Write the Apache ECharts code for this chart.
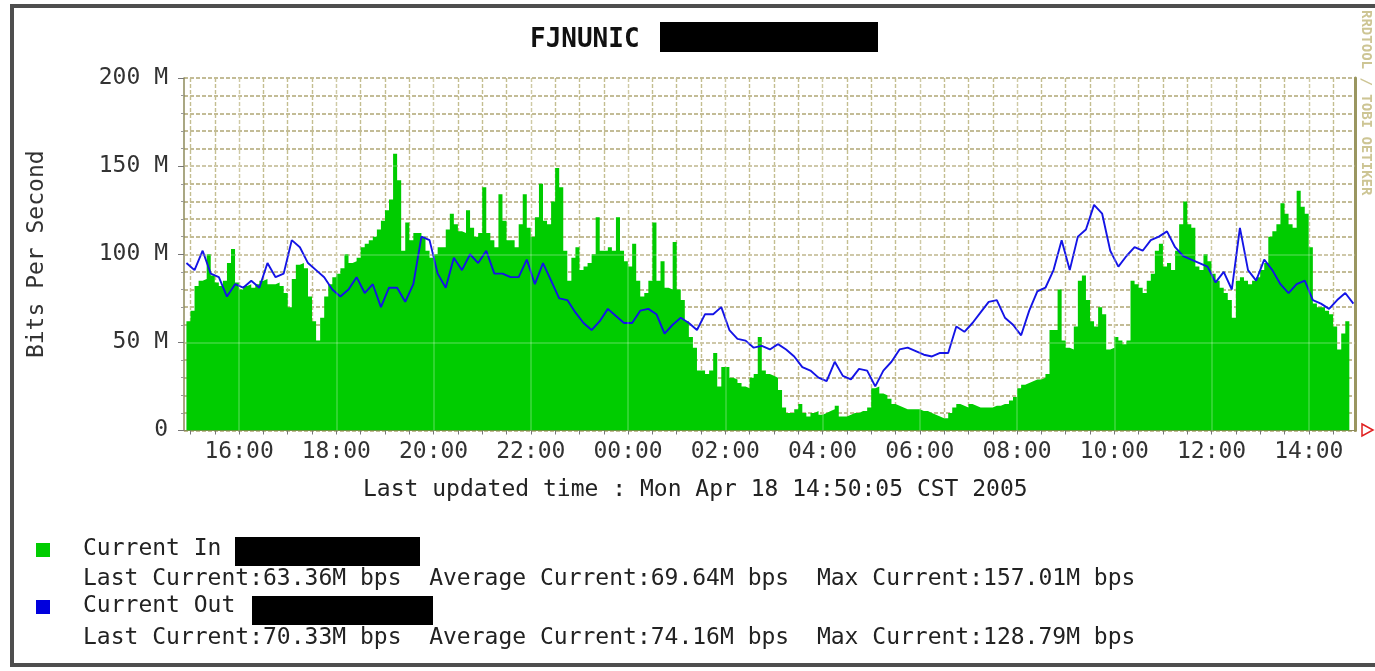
<!DOCTYPE html>
<html><head><meta charset="utf-8">
<script src="https://cdn.jsdelivr.net/npm/echarts@6/dist/echarts.min.js"></script>
<style>
html,body{margin:0;padding:0;background:#fff;}
#c{position:absolute;left:0;top:0;width:1375px;height:671px;}
#frame{position:absolute;left:10px;top:4px;width:1365px;height:663px;border-left:4px solid #4e4e4e;border-top:4px solid #4e4e4e;border-bottom:4px solid #4e4e4e;box-sizing:border-box;pointer-events:none;}
</style>
</head><body><div id="c"></div><div id="frame"></div>
<script>
// Time in minutes since 00:00 on Apr 17 (values beyond 1440 are Apr 18)
const axisStart = 892;   // 14:52
const axisEnd = 2337;    // 14:57 next day

// Current In (Mbps), 5-minute samples starting 14:55
const inStart = 895, inStep = 5;
const inValues = [
  47,62,68,82,85,86,100,88,84,82,
  85,95,103,84,80,82,83,81,83,85,
  86,83,83,84,82,78,70,86,94,95,
  92,76,62,51,64,76,83,87,89,92,
  100,95,96,98,104,106,108,110,114,119,
  125,131,157,142,102,118,108,112,112,110,
  102,98,100,104,104,114,123,117,113,112,
  125,115,110,112,138,112,108,104,134,119,
  108,108,104,117,134,115,110,121,140,119,
  117,130,149,138,102,85,98,104,91,93,
  95,100,121,102,102,104,102,121,102,96,
  93,106,85,76,78,85,118,85,96,81,
  80,107,80,74,62,53,47,34,34,32,
  34,44,25,36,36,30,29,27,25,24,
  30,32,53,34,32,31,30,23,13,10,
  10,12,15,10,8,10,11,9,10,11,
  12,14,8,8,9,10,10,11,11,13,
  24,25,21,20,18,15,14,13,12,12,
  12,12,11,11,10,9,8,7,7,10,
  13,15,14,13,15,14,13,13,13,13,
  14,14,15,15,17,19,24,26,27,28,
  29,29,30,32,57,57,80,51,47,46,
  59,85,88,74,62,59,70,66,46,47,
  53,51,49,51,85,83,81,78,85,89,
  102,106,93,95,91,102,117,130,117,115,
  93,91,100,96,89,85,81,78,74,64,
  85,87,85,83,85,87,91,95,110,113,
  117,129,123,117,115,136,127,123,104,72,
  70,70,68,66,59,46,55,62
];

// Current Out (Mbps), 10-minute samples starting 14:55
const outStart = 895, outStep = 10;
const outValues = [
  95,91,102,89,87,76,83,81,85,81,
  95,87,89,108,104,95,91,87,80,76,
  80,87,78,83,70,81,81,73,83,110,
  108,89,81,98,91,100,95,102,89,89,
  87,87,97,83,95,85,75,74,67,61,
  57,62,69,65,61,61,68,69,66,55,
  60,64,61,57,66,66,70,57,52,51,
  47,48,46,49,46,42,36,34,30,28,
  39,31,29,35,34,25,34,39,46,47,
  45,43,42,44,44,59,56,61,67,73,
  74,64,60,54,68,79,81,91,108,91,
  110,114,128,123,102,93,99,104,102,108,
  110,113,104,99,97,95,93,84,90,80,
  115,91,85,97,91,83,78,83,85,74,
  72,69,74,78,72
];

const xTickLabels = ['16:00','18:00','20:00','22:00','00:00','02:00','04:00','06:00','08:00','10:00','12:00','14:00'];
const yTickLabels = ['0','50 M','100 M','150 M','200 M'];

const titleText = 'FJNUNIC';
const updatedText = 'Last updated time : Mon Apr 18 14:50:05 CST 2005';
const legendNames = ['Current In', 'Current Out'];
const statsIn = 'Last Current:63.36M bps  Average Current:69.64M bps  Max Current:157.01M bps';
const statsOut = 'Last Current:70.33M bps  Average Current:74.16M bps  Max Current:128.79M bps';

const GREEN = '#00cc00', BLUE = '#1414e6';
const MONO = '"DejaVu Sans Mono", "Liberation Mono", monospace';
const FS = 23;

const inData = inValues.map((v, i) => [inStart + i * inStep, v]);
const outData = outValues.map((v, i) => [outStart + i * outStep, v]);

function toMin(label) { const p = label.split(':'); return (+p[0]) * 60 + (+p[1]); }
// label positions: first label is 16:00 on day 1, following ones each 2 hours later
const labelValues = xTickLabels.map((l, i) => toMin(xTickLabels[0]) + i * 120);
const halfHourValues = [];
for (let t = Math.ceil(axisStart / 30) * 30; t < axisEnd; t += 30) halfHourValues.push(t);

function fmt(t) {
  const m = ((t % 1440) + 1440) % 1440;
  const h = Math.floor(m / 60), mm = m % 60;
  return (h < 10 ? '0' : '') + h + ':' + (mm < 10 ? '0' : '') + mm;
}

const gridLine = { color: '#b0a674', type: [4, 2], width: 1.5 };
// major grid drawn faintly over the area, as the original renderer does
const overlayLines = labelValues.map(v => ({ xAxis: v })).concat([50, 100, 150].map(v => ({ yAxis: v })));

const chart = echarts.init(document.getElementById('c'));
chart.setOption({
  animation: false,
  backgroundColor: '#ffffff',
  grid: { left: 184, top: 78, width: 1171, height: 352.5, containLabel: false },
  xAxis: {
    type: 'value', min: axisStart, max: axisEnd,
    axisLine: { show: true, lineStyle: { color: '#8c8a5a', width: 1 } },
    axisTick: { show: true, customValues: halfHourValues, length: 4, lineStyle: { color: '#777' } },
    axisLabel: { customValues: labelValues, formatter: v => fmt(v), color: '#333', fontFamily: MONO, fontSize: FS, margin: 10 },
    splitLine: { show: true, lineStyle: { color: '#c4be90', type: [4, 2], width: 1.4 } }
  },
  yAxis: [{
    type: 'value', min: 0, max: 200, interval: 50,
    name: 'Bits Per Second', nameLocation: 'middle', nameRotate: 90, nameGap: 135,
    nameTextStyle: { color: '#333', fontFamily: MONO, fontSize: FS },
    axisLine: { show: true, lineStyle: { color: '#8c8a5a', width: 1.5 } },
    axisTick: { show: true, length: 6, lineStyle: { color: '#777' } },
    minorTick: { show: true, splitNumber: 5, length: 3, lineStyle: { color: '#999' } },
    axisLabel: { formatter: v => yTickLabels[Math.round(v / 50)], color: '#333', fontFamily: MONO, fontSize: FS, margin: 16 },
    splitLine: { show: true, lineStyle: gridLine },
    minorSplitLine: { show: true, lineStyle: gridLine }
  }, {
    type: 'value', min: 0, max: 200, position: 'right',
    axisLine: { show: true, lineStyle: { color: '#9a9660', width: 3 } },
    axisTick: { show: false }, axisLabel: { show: false }, splitLine: { show: false }
  }],
  series: [{
    name: legendNames[0], type: 'line', data: inData, step: 'start',
    symbol: 'none', lineStyle: { width: 0, color: GREEN },
    areaStyle: { color: GREEN, opacity: 1 }, z: 2,
    markLine: {
      silent: true, symbol: 'none', label: { show: false }, animation: false,
      lineStyle: { color: 'rgba(255,255,255,0.25)', type: 'solid', width: 1.5 },
      data: overlayLines
    }
  }, {
    name: legendNames[1], type: 'line', data: outData,
    symbol: 'none', lineStyle: { width: 1.9, color: BLUE }, z: 3
  }],
  graphic: [
    { type: 'text', left: 530, top: 27, style: { text: titleText, font: 'bold 26px ' + MONO, fill: '#111' } },
    { type: 'rect', shape: { x: 660, y: 22, width: 218, height: 30 }, style: { fill: '#000' } },
    { type: 'text', left: 363, top: 479, style: { text: updatedText, font: FS + 'px ' + MONO, fill: '#222' } },
    { type: 'rect', shape: { x: 36, y: 543, width: 14, height: 14 }, style: { fill: GREEN } },
    { type: 'text', left: 83, top: 538, style: { text: legendNames[0], font: FS + 'px ' + MONO, fill: '#222' } },
    { type: 'rect', shape: { x: 235, y: 537, width: 185, height: 29 }, style: { fill: '#000' } },
    { type: 'text', left: 83, top: 568, style: { text: statsIn, font: FS + 'px ' + MONO, fill: '#222' } },
    { type: 'rect', shape: { x: 36, y: 600, width: 14, height: 14 }, style: { fill: '#0000dd' } },
    { type: 'text', left: 83, top: 595, style: { text: legendNames[1], font: FS + 'px ' + MONO, fill: '#222' } },
    { type: 'rect', shape: { x: 252, y: 596, width: 181, height: 29 }, style: { fill: '#000' } },
    { type: 'text', left: 83, top: 627, style: { text: statsOut, font: FS + 'px ' + MONO, fill: '#222' } },
    { type: 'polygon', shape: { points: [[1362, 424], [1373, 430], [1362, 436]] }, style: { fill: 'none', stroke: '#e02020', lineWidth: 1.5 } },
    { type: 'text', x: 1373, y: 10, rotation: -Math.PI / 2, style: { text: 'RRDTOOL / TOBI OETIKER', font: 'bold 14px ' + MONO, fill: '#cdc594' } }
  ]
});
</script>
</body></html>
